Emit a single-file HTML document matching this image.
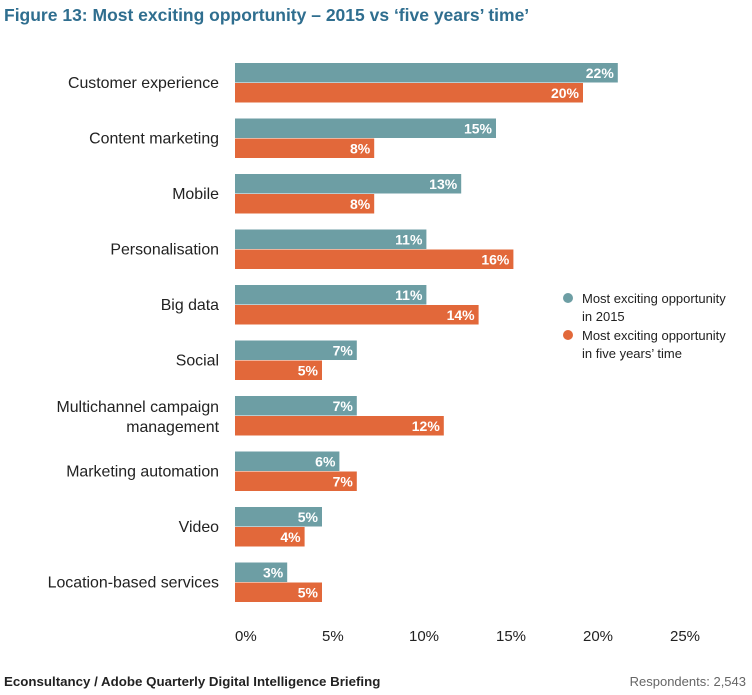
<!DOCTYPE html>
<html><head><meta charset="utf-8"><style>
body{margin:0;background:#fff;font-family:"Liberation Sans",sans-serif;}
#wrap{position:relative;width:752px;height:695px;overflow:hidden;}
</style></head><body>
<div id="wrap">
<svg id="svg" width="752" height="695" xmlns="http://www.w3.org/2000/svg">
<text x="4" y="21" font-size="17.5" font-weight="bold" fill="#2f6e8f">Figure 13: Most exciting opportunity – 2015 vs ‘five years’ time’</text>
<text x="4" y="686" font-size="13.3" font-weight="bold" fill="#222">Econsultancy / Adobe Quarterly Digital Intelligence Briefing</text>
<text x="746" y="686" font-size="13" fill="#666" text-anchor="end">Respondents: 2,543</text>
<circle cx="568" cy="298" r="5" fill="#6d9ea4"/>
<text x="582" y="303" font-size="13" fill="#222"><tspan x="582">Most exciting opportunity</tspan><tspan x="582" dy="18">in 2015</tspan></text>
<circle cx="568" cy="335" r="5" fill="#e2683a"/>
<text x="582" y="340" font-size="13" fill="#222"><tspan x="582">Most exciting opportunity</tspan><tspan x="582" dy="18">in five years’ time</tspan></text>
<g id="bars"></g>
</svg>
</div>
<script>
const categories=[["Customer experience"],["Content marketing"],["Mobile"],["Personalisation"],["Big data"],["Social"],["Multichannel campaign","management"],["Marketing automation"],["Video"],["Location-based services"]];
const values2015=[22,15,13,11,11,7,7,6,5,3];
const valuesFive=[20,8,8,16,14,5,12,7,4,5];
const ticks=[0,5,10,15,20,25];
const x0=235, pxPer=17.4;
function xs(v){return x0+v*pxPer;}
function ys(i){return 63+i*55.5;}
const NS="http://www.w3.org/2000/svg";
const g=document.getElementById('bars');
function mk(t,a){const e=document.createElementNS(NS,t);for(const k in a)e.setAttribute(k,a[k]);g.appendChild(e);return e;}
categories.forEach((c,i)=>{
  const y=ys(i);
  [[values2015[i],"#6d9ea4",0,"bar-2015"],[valuesFive[i],"#e2683a",20,"bar-five-years"]].forEach(([v,col,off,nm])=>{
    const r=mk('rect',{x:x0,y:y+off,width:xs(v)-x0,height:19.5,fill:col});
    
    
    const t=mk('text',{x:xs(v)-4,y:y+off+15,'font-size':14,'font-weight':'bold',fill:'#fff','text-anchor':'end'});
    t.textContent=v+'%';
    
    
  });
  const lines=c;
  const baseY = lines.length===1 ? y+25 : y+16;
  lines.forEach((ln,j)=>{
    const t=mk('text',{x:219,y:baseY+j*20,'font-size':15.9,fill:'#222','text-anchor':'end'});
    t.textContent=ln;
    
    
  });
});
ticks.forEach(v=>{
  const t=mk('text',{x:xs(v),y:641,'font-size':15,fill:'#222'});
  t.textContent=v+'%';
  
  
});
</script>
</body></html>
